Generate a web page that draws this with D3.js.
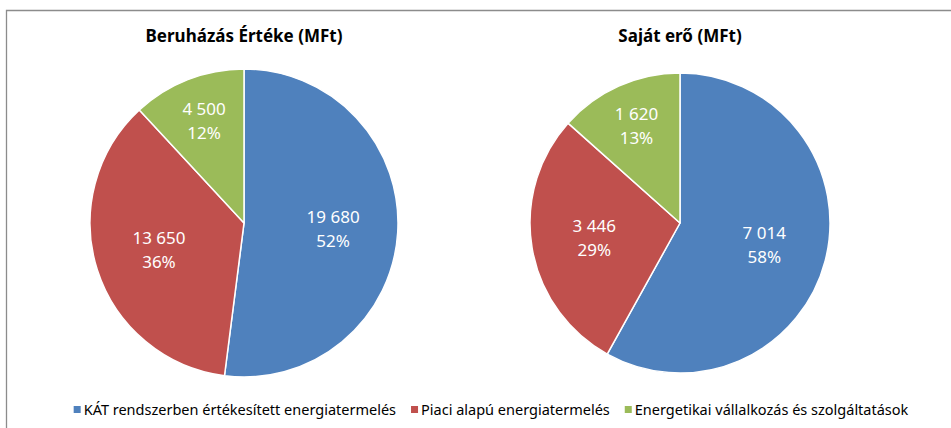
<!DOCTYPE html>
<html>
<head>
<meta charset="utf-8">
<script src="https://cdn.jsdelivr.net/npm/d3@7"></script>
<style>
  body { margin: 0; background: #fff; }
  text { font-family: "Noto Sans", "Open Sans", sans-serif; }
</style>
</head>
<body>
<script>
const width = 951;
const height = 428;

// adatok
const categories = [
  'KÁT rendszerben értékesített energiatermelés',
  'Piaci alapú energiatermelés',
  'Energetikai vállalkozás és szolgáltatások'
];
const colors = ['#4F81BD', '#C0504D', '#9BBB59'];
const titles = ['Beruházás Értéke (MFt)', 'Saját erő (MFt)'];
const beruhazasErteke = [19680, 13650, 4500];
const sajatEro = [7014, 3446, 1620];

// pie geometry
const pies = [
  { title: titles[0], values: beruhazasErteke, cx: 244, cy: 223, r: 154 },
  { title: titles[1], values: sajatEro, cx: 680, cy: 223, r: 150 }
];
// label distance from centre, as fraction of radius (the small slice sits further out, like excel "best fit")
const labelPos = [0.58, 0.58, 0.71];

const huLocale = d3.formatLocale({ decimal: ',', thousands: '\u00a0', grouping: [3], currency: ['', ''] });
const fmtNum = huLocale.format(',');

const svg = d3.select('body').append('svg')
  .attr('width', width)
  .attr('height', height);

// keret (only top and left visible)
svg.append('path')
  .attr('d', `M6.5,${height} V10.5 H${width}`)
  .attr('fill', 'none')
  .attr('stroke', '#8c8c8c')
  .attr('stroke-width', 1.3);

const pie = d3.pie().sort(null).value(d => d);

pies.forEach(p => {
  const g = svg.append('g').attr('transform', `translate(${p.cx},${p.cy})`);
  const total = d3.sum(p.values);
  const arc = d3.arc().innerRadius(0).outerRadius(p.r);
  const arcs = pie(p.values);

  g.selectAll('path.slice')
    .data(arcs)
    .enter().append('path')
    .attr('class', 'slice')
    .attr('d', arc)
    .attr('fill', (d, i) => colors[i])
    .attr('stroke', '#fff')
    .attr('stroke-width', 1.5)
    .attr('stroke-linejoin', 'round');

  const lbl = g.selectAll('text.lbl')
    .data(arcs)
    .enter().append('text')
    .attr('class', 'lbl')
    .attr('transform', (d, i) => {
      const lr = p.r * labelPos[i];
      return `translate(${d3.arc().innerRadius(lr).outerRadius(lr).centroid(d)})`;
    })
    .attr('text-anchor', 'middle')
    .attr('fill', '#fff')
    .style('font-size', '17px');
  lbl.append('tspan')
    .attr('x', 0).attr('y', -6)
    .text(d => fmtNum(d.value));
  lbl.append('tspan')
    .attr('x', 0).attr('y', 18)
    .text(d => Math.round(d.value / total * 100) + '%');

  svg.append('text')
    .attr('x', p.cx)
    .attr('y', 42)
    .attr('text-anchor', 'middle')
    .style('font-size', '17px')
    .style('font-weight', 'bold')
    .attr('fill', '#000')
    .text(p.title);
});

// jelmagyarázat
const legend = svg.append('g');
let lx = 0;
categories.forEach((c, i) => {
  const item = legend.append('g').attr('transform', `translate(${lx},0)`);
  item.append('rect')
    .attr('x', 0).attr('y', -9)
    .attr('width', 7).attr('height', 7)
    .attr('fill', colors[i]);
  const t = item.append('text')
    .attr('x', 10).attr('y', 0)
    .style('font-size', '14.5px')
    .attr('fill', '#000')
    .text(c);
  lx += 10 + t.node().getComputedTextLength() + 15;
});
lx -= 15;
legend.attr('transform', `translate(${491 - lx / 2},415)`);
</script>
</body>
</html>
